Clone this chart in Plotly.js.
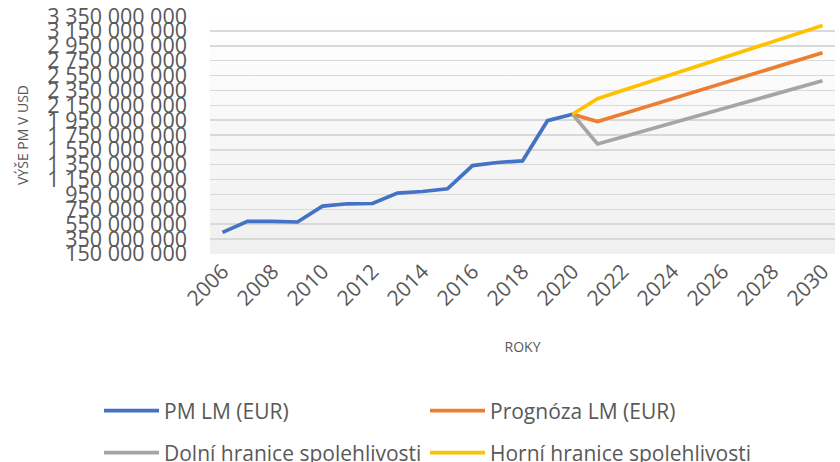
<!DOCTYPE html>
<html>
<head>
<meta charset="utf-8">
<script src="https://cdn.plot.ly/plotly-3.0.1.min.js"></script>
<style>
  html, body { margin: 0; padding: 0; background: #ffffff; }
  #wrap { position: relative; width: 840px; height: 462px; overflow: hidden; }
  #bg { position: absolute; left: 210px; top: 16px; width: 625px; height: 238px;
        background: linear-gradient(to bottom, #ffffff 0%, #f7f7f7 50%, #f0f0f0 100%); z-index: 0; }
  #chart { position: absolute; left: 0; top: 0; width: 840px; height: 462px; z-index: 1; }
</style>
</head>
<body>
<div id="wrap"><div id="bg"></div><div id="chart"></div></div>
<script>
// Years
const yearsActual = [2006, 2007, 2008, 2009, 2010, 2011, 2012, 2013, 2014, 2015, 2016, 2017, 2018, 2019, 2020];
const yearsForecast = [2020, 2021, 2022, 2023, 2024, 2025, 2026, 2027, 2028, 2029, 2030];

// Values in millions
const pmLm = [440, 588, 588, 580, 794, 825, 829, 969, 990, 1027, 1339, 1380, 1402, 1943, 2029];
const prognoza = [2029, 1930, 2033, 2136, 2239, 2342, 2445, 2548, 2651, 2754, 2856];
const dolni = [2029, 1630, 1724, 1819, 1913, 2008, 2102, 2197, 2291, 2386, 2480];
const horni = [2029, 2239, 2348, 2457, 2566, 2675, 2784, 2893, 3002, 3111, 3224];

const xTicks = [2006, 2008, 2010, 2012, 2014, 2016, 2018, 2020, 2022, 2024, 2026, 2028, 2030];
const yTicks = [150, 350, 550, 750, 950, 1150, 1350, 1550, 1750, 1950, 2150, 2350, 2550, 2750, 2950, 3150, 3350];

const names = ['PM LM (EUR)', 'Prognóza LM (EUR)', 'Dolní hranice spolehlivosti', 'Horní hranice spolehlivosti'];
const colors = ['#4472C4', '#ED7D31', '#A5A5A5', '#FFC000'];
const legendIds = ['legend', 'legend2', 'legend3', 'legend4'];

const M = 1e6;
const toAbs = arr => arr.map(v => v * M);

const txtColor = '#595959';
const fontFam = '"Open Sans", "Noto Sans", sans-serif';

const traces = [
  {x: yearsActual, y: toAbs(pmLm)},
  {x: yearsForecast, y: toAbs(prognoza)},
  {x: yearsForecast, y: toAbs(dolni)},
  {x: yearsForecast, y: toAbs(horni)}
].map((t, i) => Object.assign(t, {
  type: 'scatter', mode: 'lines', name: names[i], legend: legendIds[i],
  line: {color: colors[i], width: 3.7, shape: 'linear'},
  hoverinfo: 'x+y+name'
}));

const legendCommon = {
  orientation: 'h', xref: 'container', yref: 'container',
  xanchor: 'left', yanchor: 'middle',
  font: {family: fontFam, size: 21, color: txtColor},
  bgcolor: 'rgba(0,0,0,0)', itemwidth: 55,
  traceorder: 'normal', itemclick: false, itemdoubleclick: false
};
const legendPos = [[99, 411], [425, 411], [99, 453], [425, 453]];

const layout = {
  width: 840, height: 462,
  margin: {l: 210, r: 5, t: 16, b: 208},
  paper_bgcolor: 'rgba(0,0,0,0)',
  plot_bgcolor: 'rgba(0,0,0,0)',
  separators: ', ',
  showlegend: true,
  font: {family: fontFam, color: txtColor},
  xaxis: {
    range: [2005.5, 2030.5],
    tickmode: 'array', tickvals: xTicks, ticktext: xTicks.map(String),
    tickangle: -45,
    tickfont: {family: fontFam, size: 21, color: txtColor},
    showgrid: false, zeroline: false, showline: false, ticks: '',
    title: {text: 'ROKY', font: {family: fontFam, size: 14, color: txtColor}, standoff: 32},
    fixedrange: true
  },
  yaxis: {
    range: [149.5 * M, 3350.5 * M],
    tickmode: 'array', tickvals: toAbs(yTicks),
    tickformat: ',.0f',
    tickfont: {family: fontFam, size: 21.5, color: txtColor},
    showgrid: true, gridcolor: '#d9d9d9', gridwidth: 1.5,
    zeroline: false, showline: false, ticks: '',
    ticklabelstandoff: 22,
    title: {text: 'VÝŠE PM V USD', font: {family: fontFam, size: 14, color: txtColor}, standoff: 15},
    fixedrange: true
  }
};
legendIds.forEach((id, i) => {
  layout[id] = Object.assign({}, legendCommon, {x: legendPos[i][0] / 840, y: 1 - legendPos[i][1] / 462});
});

Plotly.newPlot('chart', traces, layout, {displayModeBar: false, staticPlot: true});
</script>
</body>
</html>
